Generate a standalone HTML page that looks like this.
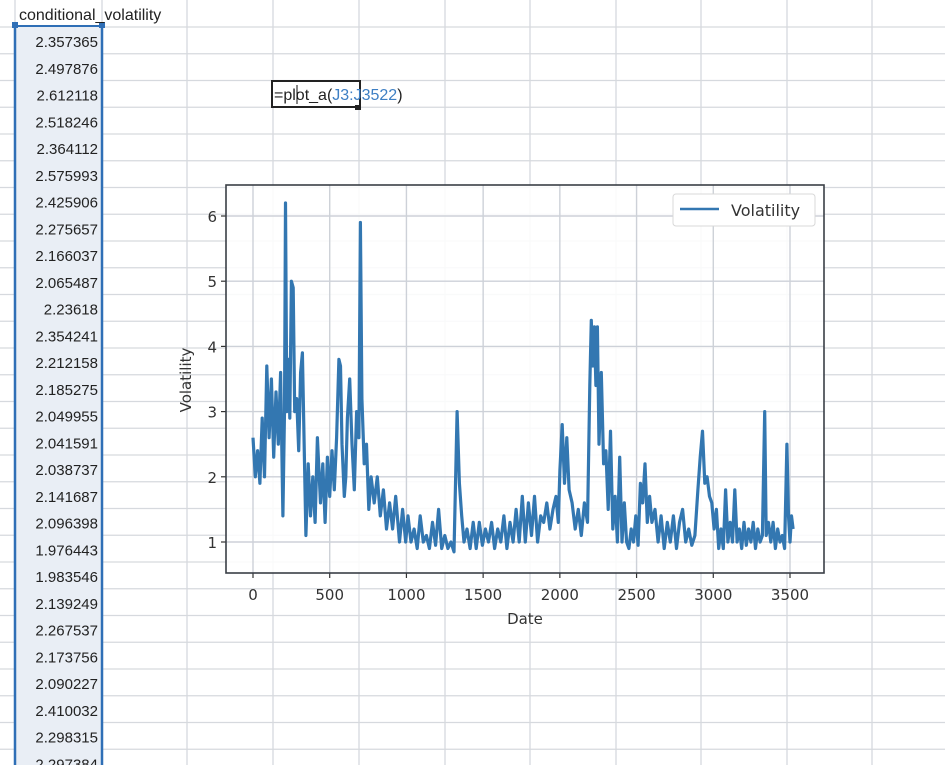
<!DOCTYPE html>
<html><head><meta charset="utf-8"><style>
html,body{margin:0;padding:0;background:#fff;}
svg{display:block;}
text{font-family:"DejaVu Sans","Liberation Sans",sans-serif;}
.cell{font-family:"Liberation Sans",sans-serif;font-size:15px;fill:#222;}
</style></head><body>
<svg id="page" width="945" height="765" viewBox="0 0 945 765" xmlns="http://www.w3.org/2000/svg">
<g id="grid"></g>
<rect x="15" y="27" width="87" height="740" fill="#e9eef5"/>
<g id="cells"></g>
<line x1="15" y1="27" x2="15" y2="765" stroke="#2f6fb6" stroke-width="2.5"/>
<line x1="102" y1="27" x2="102" y2="765" stroke="#2f6fb6" stroke-width="2.5"/>
<line x1="15" y1="26" x2="102" y2="26" stroke="#2f6fb6" stroke-width="2"/>
<rect x="12" y="22" width="6" height="6" fill="#2f6fb6"/><rect x="99" y="22" width="6" height="6" fill="#2f6fb6"/>
<text x="19" y="20" class="cell" style="font-size:16px">conditional_volatility</text>
<rect x="272" y="81" width="88" height="26" fill="#fff" stroke="#222" stroke-width="2"/>
<rect x="355" y="105" width="6" height="5" fill="#222"/>
<text x="274" y="100" class="cell" style="font-size:16px">=plot_a(<tspan fill="#3d7fc4">J3:J3522</tspan>)</text>
<line x1="297" y1="85" x2="297" y2="104" stroke="#111" stroke-width="1"/>
<g id="chart"></g>
</svg>
<script>
const dates=[0,15,30,45,60,75,90,105,120,135,150,165,180,195,205,212,220,232,240,250,262,272,285,298,310,322,335,345,360,375,390,405,420,440,455,470,485,500,515,530,545,560,570,580,595,605,615,630,645,660,675,690,700,710,725,740,755,770,790,810,830,850,870,890,910,930,955,975,995,1010,1030,1050,1070,1090,1110,1130,1150,1170,1190,1210,1230,1250,1270,1290,1310,1330,1345,1360,1375,1395,1415,1435,1455,1475,1495,1515,1535,1555,1575,1595,1615,1635,1655,1675,1695,1715,1735,1755,1775,1795,1815,1835,1855,1875,1895,1915,1935,1955,1975,1990,2000,2015,2030,2045,2060,2080,2100,2120,2140,2160,2180,2195,2205,2215,2225,2235,2245,2255,2270,2285,2300,2315,2330,2345,2360,2375,2390,2405,2420,2435,2450,2465,2480,2495,2510,2525,2540,2555,2570,2585,2600,2620,2640,2660,2680,2700,2720,2740,2760,2780,2800,2820,2840,2860,2880,2900,2915,2930,2945,2960,2975,2990,3005,3020,3035,3050,3065,3080,3095,3110,3125,3140,3155,3170,3185,3200,3215,3230,3245,3260,3275,3290,3305,3320,3335,3345,3360,3375,3390,3405,3420,3435,3450,3465,3480,3490,3500,3510,3520];
const vols=[2.6,2.0,2.4,1.9,2.9,2.0,3.7,2.6,3.5,2.3,3.3,2.5,3.6,1.4,3.0,6.2,3.0,3.8,2.9,5.0,4.9,3.0,3.2,2.4,3.6,3.9,2.3,1.1,2.2,1.4,2.0,1.3,2.6,1.6,2.2,1.3,2.3,1.7,2.4,1.8,2.6,3.8,3.7,2.5,1.7,2.0,2.9,3.5,2.5,1.8,3.0,2.6,5.9,3.2,2.2,2.5,1.5,2.0,1.6,2.0,1.4,1.8,1.2,1.6,1.2,1.7,1.0,1.5,1.0,1.4,1.0,1.2,0.9,1.4,1.0,1.1,0.9,1.3,0.95,1.5,0.9,1.1,0.9,1.0,0.85,3.0,1.9,1.4,1.0,1.2,0.9,1.3,0.9,1.3,0.95,1.2,1.0,1.3,0.9,1.2,1.0,1.4,0.9,1.3,1.0,1.5,1.0,1.7,1.0,1.6,1.1,1.7,1.0,1.4,1.3,1.6,1.2,1.5,1.7,1.3,2.1,2.8,1.9,2.6,1.8,1.6,1.2,1.5,1.1,1.6,1.3,3.4,4.4,3.7,4.3,3.4,4.3,2.5,3.6,2.2,2.4,1.5,2.7,1.2,1.7,1.0,2.3,1.0,1.6,1.0,0.9,1.2,1.0,1.4,0.95,1.9,1.6,2.2,1.3,1.7,1.3,1.5,1.0,1.4,0.9,1.3,1.0,1.4,0.9,1.3,1.5,1.0,1.2,0.95,1.1,1.8,2.3,2.7,1.9,2.0,1.7,1.6,1.2,1.5,0.9,1.2,0.9,1.8,1.0,1.3,1.0,1.8,1.0,1.2,0.9,1.3,0.95,1.2,1.0,1.3,0.9,1.2,1.0,1.1,3.0,1.1,1.3,1.0,1.3,0.9,1.2,1.0,1.1,0.9,2.5,1.4,1.0,1.4,1.2];
const xTicks=[0,500,1000,1500,2000,2500,3000,3500];
const yTicks=[1,2,3,4,5,6];
const cellValues=["2.357365","2.497876","2.612118","2.518246","2.364112","2.575993","2.425906","2.275657","2.166037","2.065487","2.23618","2.354241","2.212158","2.185275","2.049955","2.041591","2.038737","2.141687","2.096398","1.976443","1.983546","2.139249","2.267537","2.173756","2.090227","2.410032","2.298315","2.297384"];

const NS="http://www.w3.org/2000/svg";
function mk(tag,attrs,parent){const e=document.createElementNS(NS,tag);for(const k in attrs)e.setAttribute(k,attrs[k]);parent.appendChild(e);return e;}

const grid=document.getElementById('grid');
const RH=26.75;
for(let y=27;y<765;y+=RH){const l=mk('line',{x1:0,y1:y,x2:945,y2:y,stroke:'#d6d9de','stroke-width':1.3},grid);

}
[15,102,187,273,359,445,530,616,701,787,872].forEach(x=>{const l=mk('line',{x1:x,y1:0,x2:x,y2:765,stroke:'#d6d9de','stroke-width':1.3},grid);

});

const cells=document.getElementById('cells');
cellValues.forEach((v,i)=>{const t=mk('text',{x:98,y:27+RH*i+20,'text-anchor':'end',class:'cell'},cells);t.textContent=v;

});

const chart=document.getElementById('chart');
const L=226,T=185,R=824,B=573;
const X=d=>253+(d/3500)*(790-253);
const Y=v=>542-(v-1)*65.2;
const bg=mk('rect',{x:L,y:T,width:R-L,height:B-T,fill:'#fff','fill-opacity':0.85},chart);


xTicks.forEach(t=>{const g=mk('line',{x1:X(t),y1:T,x2:X(t),y2:B,stroke:'#cdd1d8','stroke-width':1.4},chart);


const tk=mk('line',{x1:X(t),y1:B,x2:X(t),y2:B+5,stroke:'#333','stroke-width':1.2},chart);


const lb=mk('text',{x:X(t),y:B+27,'text-anchor':'middle','font-size':15,fill:'#333'},chart);lb.textContent=t;

});
yTicks.forEach(t=>{const g=mk('line',{x1:L,y1:Y(t),x2:R,y2:Y(t),stroke:'#cdd1d8','stroke-width':1.4},chart);


const tk=mk('line',{x1:L-5,y1:Y(t),x2:L,y2:Y(t),stroke:'#333','stroke-width':1.2},chart);


const lb=mk('text',{x:L-9,y:Y(t)+6,'text-anchor':'end','font-size':15,fill:'#333'},chart);lb.textContent=t;

});
const pts=dates.map((d,i)=>X(d).toFixed(1)+','+Y(vols[i]).toFixed(1)).join(' ');
const line=mk('polyline',{points:pts,fill:'none',stroke:'#3377b1','stroke-width':3.2,'stroke-linejoin':'round'},chart);


const frame=mk('rect',{x:L,y:T,width:R-L,height:B-T,fill:'none',stroke:'#3a3f46','stroke-width':1.6},chart);


const xt=mk('text',{x:525,y:624,'text-anchor':'middle','font-size':15,fill:'#333'},chart);xt.textContent='Date';


const yt=mk('text',{x:0,y:0,'text-anchor':'middle','font-size':15,fill:'#333',transform:'translate(191,380) rotate(-90)'},chart);yt.textContent='Volatility';


const lg=mk('g',{},chart);


mk('rect',{x:673,y:194,width:142,height:32,rx:3,fill:'#fff',stroke:'#d8d8d8','stroke-width':1},lg);
mk('line',{x1:680,y1:209,x2:719,y2:209,stroke:'#3377b1','stroke-width':2.6},lg);
const lt=mk('text',{x:731,y:216,'font-size':16,fill:'#333'},lg);lt.textContent='Volatility';


</script>
</body></html>
